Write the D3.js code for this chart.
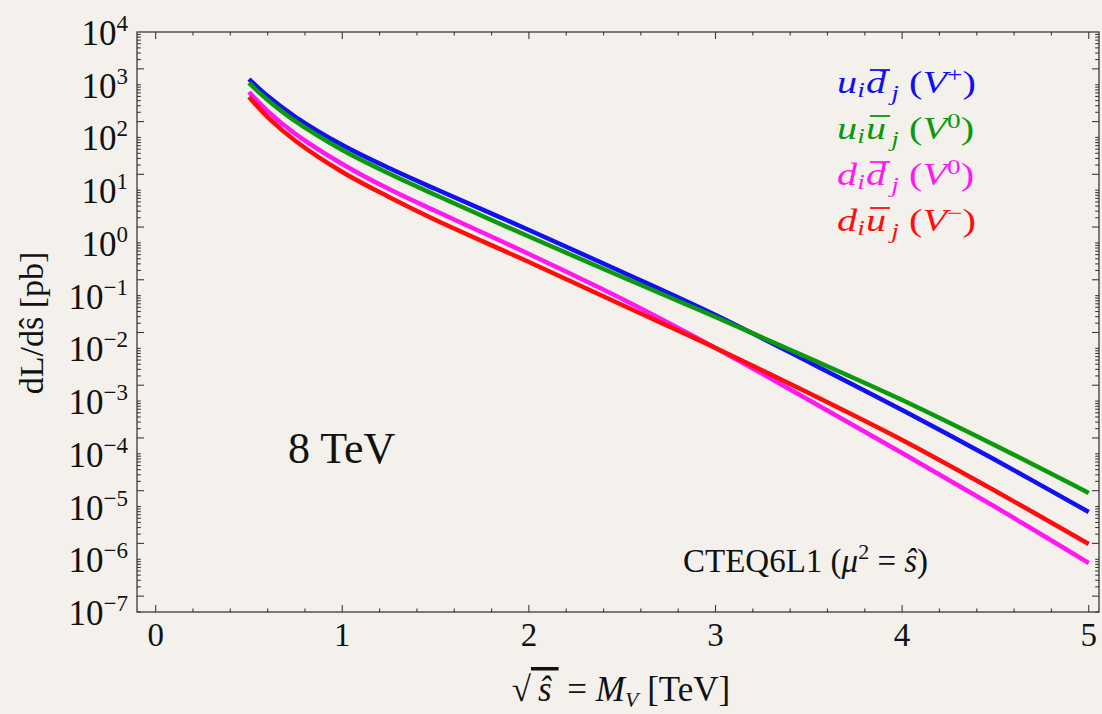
<!DOCTYPE html>
<html>
<head>
<meta charset="utf-8">
<script src="https://cdn.jsdelivr.net/npm/d3@7"></script>
<style>
  html, body { margin: 0; padding: 0; background: #f4f1ec; }
  svg { display: block; }
  text { font-family: "Liberation Serif", "Times New Roman", serif; fill: #111; }
</style>
</head>
<body>
<svg id="chart" width="1102" height="714"></svg>
<script>
// Parton luminosities dL/dŝ [pb] vs sqrt(ŝ) [TeV], 8 TeV, CTEQ6L1
const masses = [0.5, 0.6, 0.75, 1.0, 1.25, 1.5, 2.0, 2.5, 3.0, 3.5, 4.0, 4.5, 5.0];
const udbar = [1284, 611, 244, 71.9, 26.3, 10.5, 1.76, 0.281, 0.0429, 0.00551, 6.78e-4, 7.63e-5, 7.88e-6];
const uubar = [1079, 513, 201, 57.8, 20.7, 8.10, 1.32, 0.2256, 0.0393, 0.00657, 1.05e-3, 1.44e-4, 1.81e-5];
const ddbar = [728, 317, 116, 31.4, 10.5, 4.03, 0.616, 0.0864, 0.0102, 1.05e-3, 1.04e-4, 9.8e-6, 8.5e-7];
const dubar = [585, 244, 85.7, 22.1, 7.43, 2.72, 0.434, 0.0665, 0.0102, 1.42e-3, 1.83e-4, 1.97e-5, 1.95e-6];

const xTickValues = [0, 1, 2, 3, 4, 5];
const yExponents = [4, 3, 2, 1, 0, -1, -2, -3, -4, -5, -6, -7];

const series = [
  { name: "udbar", values: udbar, color: "#1010f4", q1: "u", q2: "d", charge: "+" },
  { name: "uubar", values: uubar, color: "#0c990c", q1: "u", q2: "u", charge: "0" },
  { name: "ddbar", values: ddbar, color: "#ff18f2", q1: "d", q2: "d", charge: "0" },
  { name: "dubar", values: dubar, color: "#ff0d0d", q1: "d", q2: "u", charge: "\u2212" }
];

const W = 1102, H = 714;
const margin = { left: 137, right: 3, top: 32, bottom: 102 };
const svg = d3.select("#chart");

const x = d3.scaleLinear().domain([-0.1, 5.055]).range([margin.left, W - margin.right]);
const y = d3.scaleLog().domain([1e-7, 1e4]).range([H - margin.bottom, margin.top]);

const axisColor = "#3a3a3a";
const x0 = x.range()[0], x1 = x.range()[1];
const y0 = y.range()[0], y1 = y.range()[1];

// ---- ticks ----
const xTicks = d3.range(0, 5.0001, 0.2).map(v => ({ v: +v.toFixed(2), major: Math.abs(v - Math.round(v)) < 1e-6 }));
const gx = svg.append("g").attr("stroke", axisColor).attr("stroke-width", 1.1);
gx.selectAll("line.bt").data(xTicks).join("line")
  .attr("x1", d => x(d.v)).attr("x2", d => x(d.v))
  .attr("y1", y0).attr("y2", d => y0 - (d.major ? 7 : 3.5));
gx.selectAll("line.tt").data(xTicks).join("line")
  .attr("x1", d => x(d.v)).attr("x2", d => x(d.v))
  .attr("y1", y1).attr("y2", d => y1 + (d.major ? 7 : 3.5));

const yTicks = [];
for (let e = -7; e < 4; e++) {
  for (let m = 1; m <= 9; m++) yTicks.push({ v: m * Math.pow(10, e), len: m === 2 ? 7 : 3.8 });
}
const gy = svg.append("g").attr("stroke", axisColor).attr("stroke-width", 1.1);
gy.selectAll("line.lt").data(yTicks).join("line")
  .attr("x1", x0).attr("x2", d => x0 + d.len)
  .attr("y1", d => y(d.v)).attr("y2", d => y(d.v));
gy.selectAll("line.rt").data(yTicks).join("line")
  .attr("x1", x1).attr("x2", d => x1 - d.len)
  .attr("y1", d => y(d.v)).attr("y2", d => y(d.v));

// ---- frame ----
svg.append("rect")
  .attr("x", x0).attr("y", y1).attr("width", x1 - x0).attr("height", y0 - y1)
  .attr("fill", "none").attr("stroke", axisColor).attr("stroke-width", 1.3);

// ---- tick labels ----
svg.append("g").selectAll("text").data(xTickValues).join("text")
  .attr("x", d => x(d)).attr("y", y0 + 34)
  .attr("text-anchor", "middle").attr("font-size", 33)
  .text(d => d);

const yl = svg.append("g").selectAll("text").data(yExponents).join("text")
  .attr("x", x0 - 9).attr("y", d => y(Math.pow(10, d)) + 13)
  .attr("text-anchor", "end").attr("font-size", 35);
yl.append("tspan").text("10");
yl.append("tspan").attr("font-size", 23).attr("dy", -14)
  .text(d => (d < 0 ? "\u2212" + (-d) : String(d)));

// ---- curves ----
const line = d3.line()
  .x(d => x(d[0])).y(d => y(d[1]))
  .curve(d3.curveCatmullRom.alpha(0.5));

svg.append("g").selectAll("path").data(series).join("path")
  .attr("d", s => line(masses.map((m, i) => [m, s.values[i]])))
  .attr("fill", "none").attr("stroke", s => s.color)
  .attr("stroke-width", 4.5).attr("stroke-linecap", "butt");

// ---- legend (set wide, as in the original figure) ----
const rowY = [93, 139, 185, 231];
series.forEach((s, i) => {
  const g = svg.append("g").attr("transform", `translate(837, ${rowY[i]}) scale(1.3, 1)`);
  const t = g.append("text").attr("x", 0).attr("y", 0)
    .attr("font-size", 31).style("fill", s.color);
  t.append("tspan").attr("font-style", "italic").style("fill", s.color).text(s.q1);
  t.append("tspan").attr("font-style", "italic").attr("font-size", 21).attr("dy", 4).style("fill", s.color).text("i");
  t.append("tspan").attr("font-style", "italic").attr("dx", 1).attr("dy", -4).style("fill", s.color).text(s.q2);
  t.append("tspan").attr("font-style", "italic").attr("font-size", 21).attr("dx", 4).attr("dy", 7).style("fill", s.color).text("j");
  t.append("tspan").attr("dy", -7).style("fill", s.color).text(" (");
  t.append("tspan").attr("font-style", "italic").style("fill", s.color).text("V");
  t.append("tspan").attr("font-size", 21).attr("dy", -11).style("fill", s.color).text(s.charge);
  t.append("tspan").attr("dy", 11).style("fill", s.color).text(")");
  // bar over the antiquark
  const node = t.node();
  const a = node.getStartPositionOfChar(2).x, b = node.getEndPositionOfChar(2).x;
  g.append("line")
    .attr("x1", a + 3).attr("x2", b + 3)
    .attr("y1", -23).attr("y2", -23)
    .attr("stroke", s.color).attr("stroke-width", 1.8);
});

// ---- annotations ----
svg.append("text").attr("x", 288).attr("y", 463).attr("font-size", 44).text("8 TeV");

const ct = svg.append("text").attr("x", 683).attr("y", 572).attr("font-size", 33);
ct.append("tspan").text("CTEQ6L1 (");
ct.append("tspan").attr("font-style", "italic").text("\u03bc");
ct.append("tspan").attr("font-size", 22).attr("dy", -13).text("2");
ct.append("tspan").attr("dy", 13).text(" = ");
ct.append("tspan").attr("font-style", "italic").text("\u015d");
ct.append("tspan").text(")");

// ---- axis titles ----
const xt = svg.append("text").attr("x", 621).attr("y", 701)
  .attr("text-anchor", "middle").attr("font-size", 35);
xt.append("tspan").text("\u221a");
xt.append("tspan").attr("font-style", "italic").style("text-decoration", "overline").text("\u2009\u015d\u2009");
xt.append("tspan").text(" = ");
xt.append("tspan").attr("font-style", "italic").text("M");
xt.append("tspan").attr("font-style", "italic").attr("font-size", 22).attr("dy", 6).text("V");
xt.append("tspan").attr("dy", -6).text(" [TeV]");

svg.append("text")
  .attr("transform", `translate(43, ${(y0 + y1) / 2 + 1}) rotate(-90)`)
  .attr("text-anchor", "middle").attr("font-size", 34)
  .text("dL/d\u015d [pb]");
</script>
</body>
</html>
